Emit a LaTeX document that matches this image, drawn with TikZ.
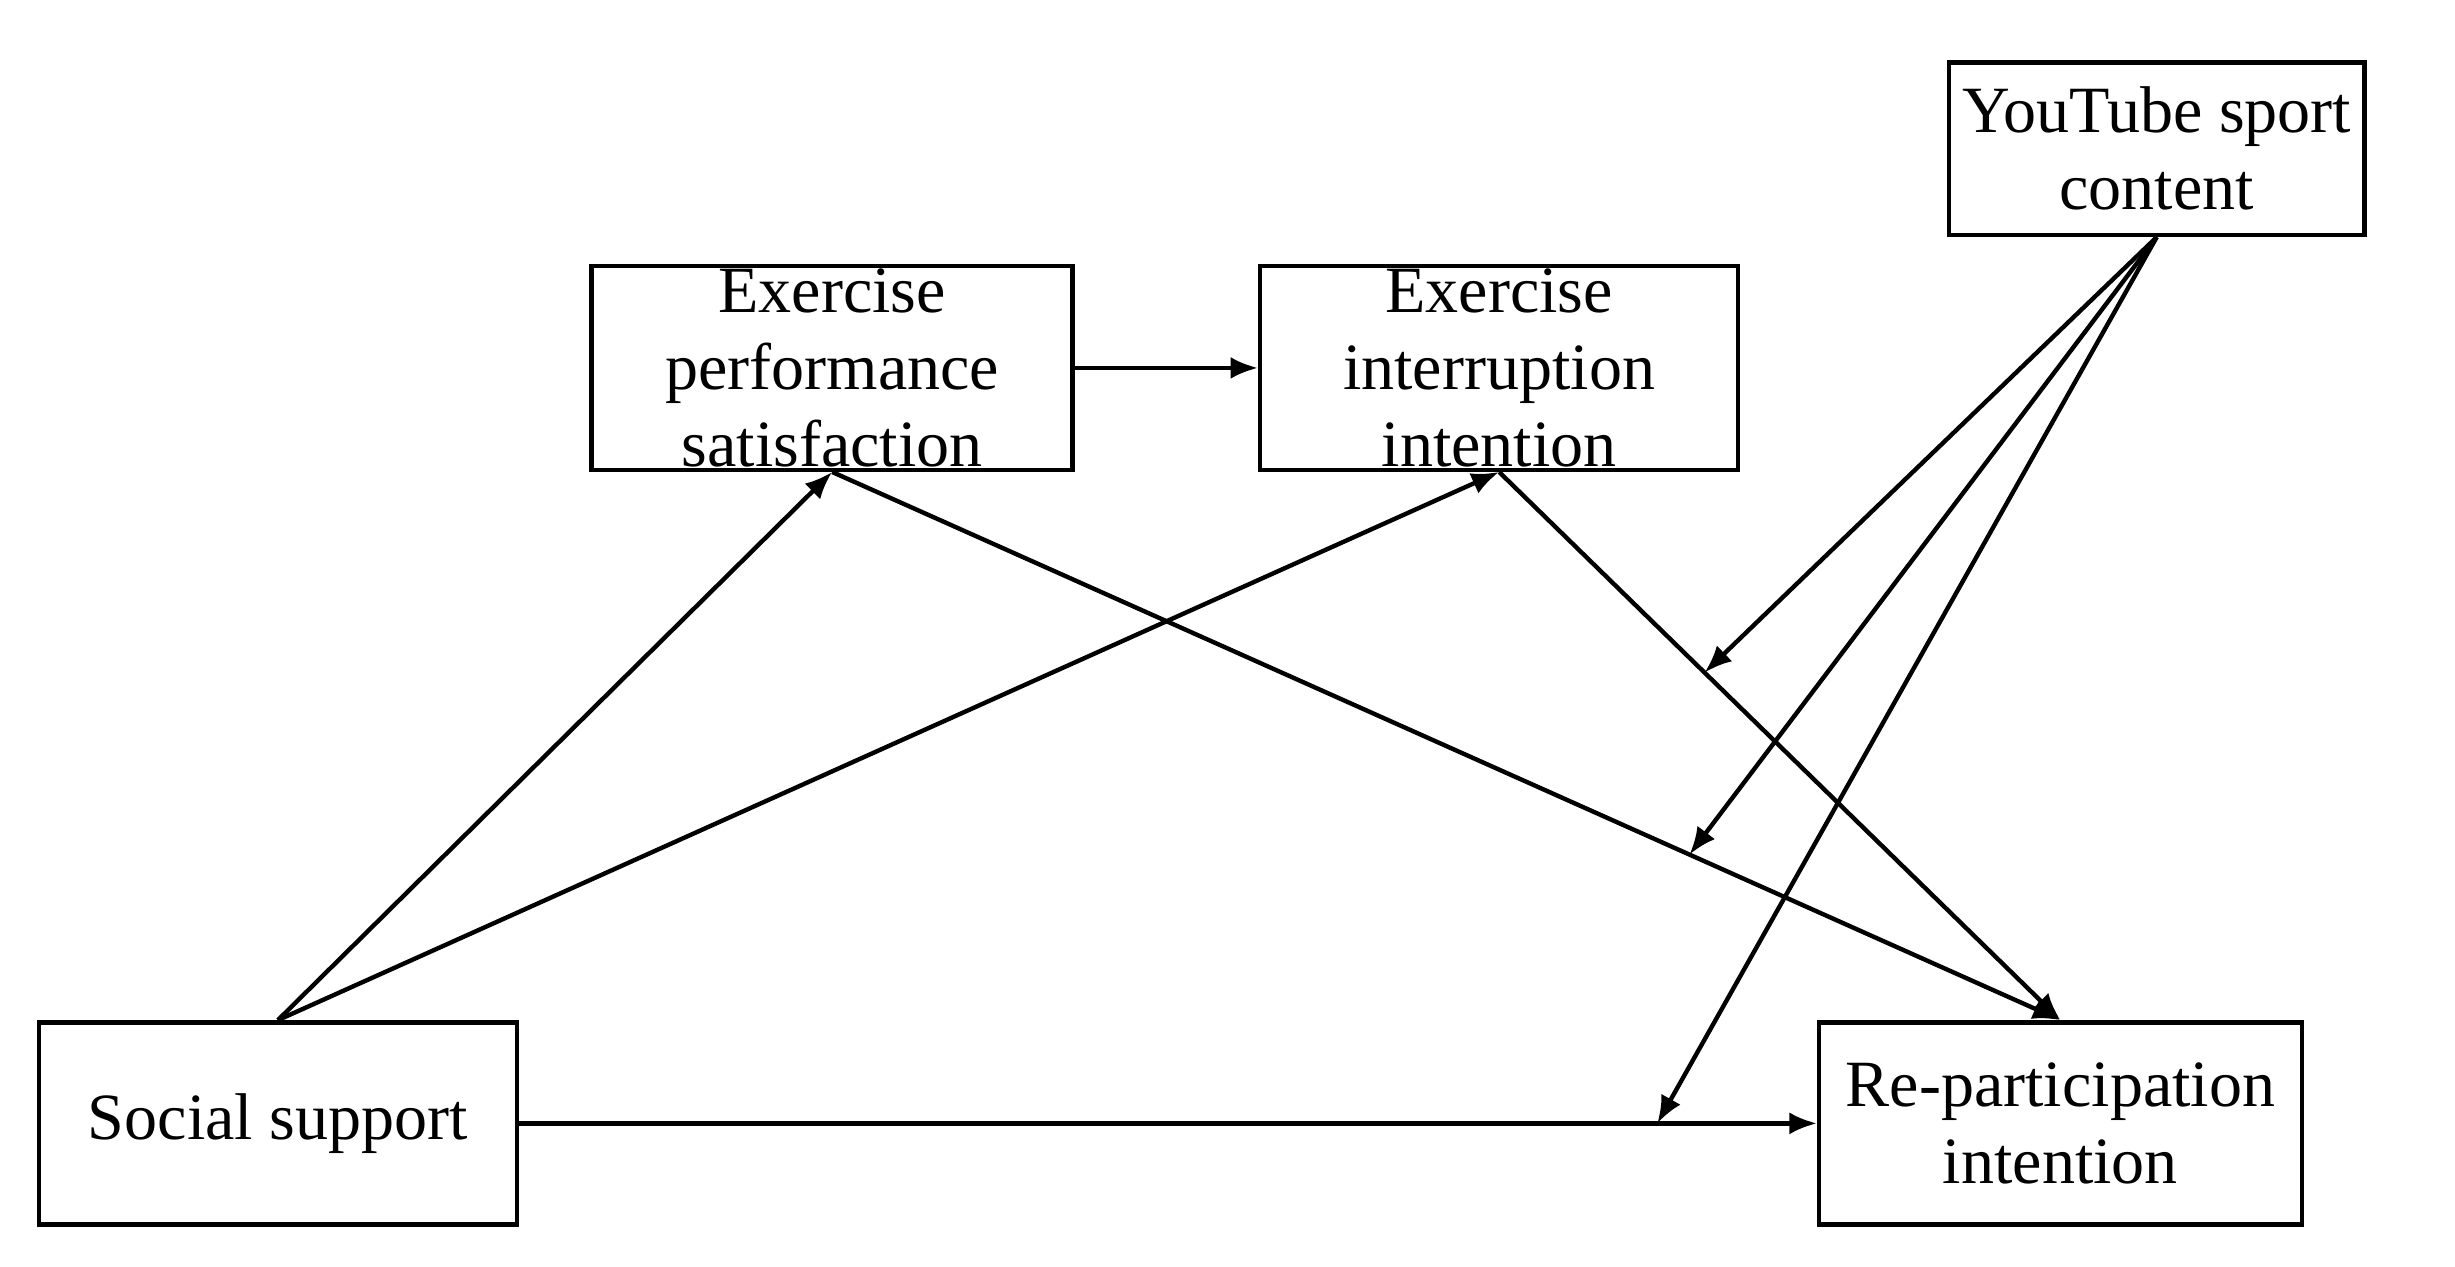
\documentclass[tikz,border=0pt]{standalone}
\usepackage{fontspec}
\setmainfont{Liberation Serif}
\usetikzlibrary{arrows.meta,calc}
\begin{document}
\begin{tikzpicture}[x=0.01cm,y=-0.01cm,
  box/.style={draw,line width=0.8pt,align=center,font=\fontsize{12}{14}\selectfont,inner sep=0pt},
  arr/.style={line width=0.8pt,-{Latex[length=5pt,width=4pt]}}]
\useasboundingbox (0,0) rectangle (1568,809);
\node[box,minimum width=2.65cm,minimum height=1.10cm] (yt) at (1377.5,95) {YouTube sport\\content};
\node[box,minimum width=3.07cm,minimum height=1.30cm] (eps) at (531.5,235) {Exercise\\performance\\satisfaction};
\node[box,minimum width=3.05cm,minimum height=1.30cm] (eii) at (957.5,235) {Exercise\\interruption\\intention};
\node[box,minimum width=3.05cm,minimum height=1.29cm] (ss) at (177.5,717.5) {Social support};
\node[box,minimum width=3.08cm,minimum height=1.29cm] (rp) at (1316,717.5) {Re-participation\\intention};
\draw[arr] (eps.east) -- (eii.west);
\draw[arr] (ss.north) -- (eps.south);
\draw[arr] (ss.north) -- (eii.south);
\draw[arr] (eps.south) -- (rp.north);
\draw[arr] (eii.south) -- (rp.north);
\draw[arr] (ss.east) -- (rp.west);
\coordinate (m1) at ($(eii.south)!0.366!(rp.north)$);
\coordinate (m2) at ($(eps.south)!0.698!(rp.north)$);
\coordinate (m3) at ($(ss.east)!0.877!(rp.west)$);
\draw[arr] (yt.south) -- (m1);
\draw[arr] (yt.south) -- (m2);
\draw[arr] (yt.south) -- (m3);
\end{tikzpicture}
\end{document}
